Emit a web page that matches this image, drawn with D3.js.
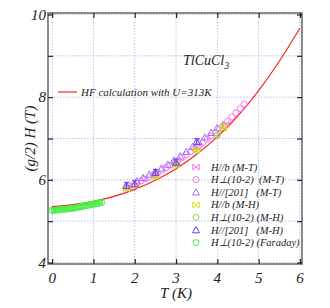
<!DOCTYPE html>
<html>
<head>
<meta charset="utf-8">
<script src="https://cdn.jsdelivr.net/npm/d3@7"></script>
<style>
  body { margin: 0; background: #fff; }
</style>
</head>
<body>
<div id="chart"></div>
<script>
// HF calculation curve (T, (g/2)H)
const curveT = [0, 0.5, 1, 1.5, 2, 2.5, 3, 3.5, 4, 4.5, 5, 5.5, 6];
const curveH = [5.35, 5.40, 5.48, 5.60, 5.77, 5.99, 6.27, 6.62, 7.04, 7.55, 8.16, 8.87, 9.67];

// Faraday, H perp (10-2)
const faradayT = [0, 0.05, 0.1, 0.15, 0.2, 0.25, 0.3, 0.35, 0.4, 0.45, 0.5, 0.55, 0.6, 0.65, 0.7, 0.75, 0.8, 0.85, 0.9, 0.95, 1.0, 1.05, 1.1, 1.15, 1.2];
const faradayH = [5.26, 5.26, 5.27, 5.27, 5.28, 5.28, 5.29, 5.29, 5.30, 5.31, 5.31, 5.32, 5.33, 5.34, 5.35, 5.36, 5.37, 5.38, 5.39, 5.40, 5.41, 5.42, 5.43, 5.44, 5.45];

// M-T, H perp (10-2)
const mtPerpT = [1.85, 1.95, 2.05, 2.15, 2.25, 2.35, 2.45, 2.55, 2.65, 2.75, 2.85, 2.95, 3.05, 3.15, 3.25, 3.35, 3.45, 3.55, 3.65, 3.75, 3.85, 3.95, 4.05, 4.15, 4.25, 4.35, 4.45, 4.55, 4.65];
const mtPerpH = [5.85, 5.88, 5.92, 5.97, 6.02, 6.07, 6.12, 6.17, 6.23, 6.29, 6.35, 6.41, 6.47, 6.54, 6.61, 6.68, 6.75, 6.82, 6.90, 6.98, 7.06, 7.14, 7.23, 7.32, 7.42, 7.52, 7.62, 7.72, 7.83];

// M-T, H // [201]
const mt201T = [2.05, 2.2, 2.35, 2.5, 2.65, 2.8, 2.95, 3.1, 3.25, 3.4, 3.55, 3.7, 3.85, 4.0];
const mt201H = [5.97, 6.05, 6.13, 6.20, 6.28, 6.37, 6.47, 6.57, 6.68, 6.80, 6.92, 7.03, 7.14, 7.26];

// M-T, H // b
const mtBT = [1.85, 2.5, 3.0, 3.5, 4.2];
const mtBH = [5.82, 6.12, 6.42, 6.78, 7.35];

// M-H, H // b
const mhBT = [1.8, 2.0, 2.5, 3.0, 3.5, 4.15];
const mhBH = [5.78, 5.85, 6.07, 6.35, 6.72, 7.25];

// M-H, H perp (10-2)
const mhPerpT = [1.8, 2.5, 3.0, 3.5, 4.0, 4.15];
const mhPerpH = [5.80, 6.10, 6.38, 6.70, 7.08, 7.30];

// M-H, H // [201]
const mh201T = [1.8, 2.0, 2.5, 3.0, 3.5];
const mh201H = [5.86, 5.90, 6.17, 6.42, 6.92];

const xTicks = [0, 1, 2, 3, 4, 5, 6];
const yTicks = [4, 5, 6, 7, 8, 9, 10];
const yLabels = [4, 6, 8, 10];

const legendNames = ["H//b (M-T)", "H\u22a5(10-2)  (M-T)", "H//[201]   (M-T)", "H//b (M-H)", "H\u22a5(10-2) (M-H)", "H//[201]   (M-H)", "H\u22a5(10-2) (Faraday)"];
const legendColors = ["#ff6ee6", "#ff77ee", "#a070ff", "#dde000", "#9ad64a", "#6a3cff", "#44ee44"];
const legendShapes = ["bowtie", "circle", "triangle", "bowtie", "circle", "triangle", "circle"];

const width = 330, height = 308;
const frame = {left: 48, right: 302, top: 13, bottom: 264};
const serif = "Liberation Serif";

const svg = d3.select("#chart").append("svg")
    .attr("width", width)
    .attr("height", height);

// every label goes through here so the serif italic face is set on the element itself
function label(parent, size) {
    return parent.append("text")
        .attr("font-family", serif)
        .attr("font-style", "italic")
        .attr("font-size", size + "px")
        .attr("fill", "#222");
}

const x = d3.scaleLinear().domain([-0.1, 6.05]).range([frame.left, frame.right]);
const y = d3.scaleLinear().domain([4, 10]).range([262.5, 14.5]);

// grid
svg.append("g").selectAll("line")
    .data(xTicks)
    .enter().append("line")
    .attr("x1", d => x(d)).attr("x2", d => x(d))
    .attr("y1", frame.top).attr("y2", frame.bottom)
    .attr("stroke", "#9fb4ee").attr("stroke-width", 0.8)
    .attr("stroke-dasharray", "1.5,1.5");
svg.append("g").selectAll("line")
    .data(yTicks)
    .enter().append("line")
    .attr("x1", frame.left).attr("x2", frame.right)
    .attr("y1", d => y(d)).attr("y2", d => y(d))
    .attr("stroke", "#9fb4ee").attr("stroke-width", 0.8)
    .attr("stroke-dasharray", "1.5,1.5");

// frame
svg.append("rect")
    .attr("x", frame.left).attr("y", frame.top)
    .attr("width", frame.right - frame.left)
    .attr("height", frame.bottom - frame.top)
    .attr("fill", "none")
    .attr("stroke", "#6e6e6e")
    .attr("stroke-width", 1.6);

// ticks (inward)
const tickLen = 5;
svg.append("g")
    .attr("transform", `translate(0,${frame.bottom})`)
    .call(d3.axisTop(x).tickValues(xTicks).tickSize(tickLen).tickFormat(""))
    .call(g => g.select(".domain").remove());
svg.append("g")
    .attr("transform", `translate(0,${frame.top})`)
    .call(d3.axisBottom(x).tickValues(xTicks).tickSize(tickLen).tickFormat(""))
    .call(g => g.select(".domain").remove());
svg.append("g")
    .attr("transform", `translate(${frame.left},0)`)
    .call(d3.axisRight(y).tickValues(yTicks).tickSize(tickLen).tickFormat(""))
    .call(g => g.select(".domain").remove());
svg.append("g")
    .attr("transform", `translate(${frame.right},0)`)
    .call(d3.axisLeft(y).tickValues(yTicks).tickSize(tickLen).tickFormat(""))
    .call(g => g.select(".domain").remove());
svg.selectAll(".tick line").attr("stroke", "#222").attr("stroke-width", 1.2);

// tick labels
const xLab = svg.append("g");
xTicks.forEach(d => {
    label(xLab, 15)
        .attr("x", x(d))
        .attr("y", 283)
        .attr("text-anchor", "middle")
        .text(d);
});
const yLab = svg.append("g");
yLabels.forEach(d => {
    label(yLab, 15)
        .attr("x", 46)
        .attr("y", y(d))
        .attr("dy", "0.35em")
        .attr("text-anchor", "end")
        .text(d);
});

// axis titles
label(svg, 15)
    .attr("x", (x(0) + x(6)) / 2)
    .attr("y", 298)
    .attr("text-anchor", "middle")
    .text("T (K)");
label(svg, 15)
    .attr("transform", `translate(35,${(y(4) + y(10)) / 2}) rotate(-90)`)
    .attr("text-anchor", "middle")
    .text("(g/2) H (T)");

// HF curve
const line = d3.line()
    .x(d => x(d[0]))
    .y(d => y(d[1]))
    .curve(d3.curveMonotoneX);
svg.append("path")
    .datum(curveT.map((t, i) => [t, curveH[i]]))
    .attr("d", line)
    .attr("fill", "none")
    .attr("stroke", "#ff2020")
    .attr("stroke-width", 1.2);

// symbols
function drawSymbol(g, shape, cx, cy, color) {
    if (shape === "circle") {
        g.append("circle").attr("cx", cx).attr("cy", cy).attr("r", 3)
            .attr("fill", "none").attr("stroke", color).attr("stroke-width", 1);
    } else if (shape === "triangle") {
        g.append("path")
            .attr("d", `M${cx},${cy - 3.5}L${cx + 3.5},${cy + 2.8}L${cx - 3.5},${cy + 2.8}Z`)
            .attr("fill", "none").attr("stroke", color).attr("stroke-width", 1);
    } else {
        g.append("path")
            .attr("d", `M${cx - 3.2},${cy - 3}L${cx + 3.2},${cy + 3}L${cx + 3.2},${cy - 3}L${cx - 3.2},${cy + 3}Z`)
            .attr("fill", "none").attr("stroke", color).attr("stroke-width", 1);
    }
}

function drawSeries(ts, hs, shape, color, err) {
    const g = svg.append("g");
    ts.forEach((t, i) => {
        if (err) {
            g.append("line")
                .attr("x1", x(t)).attr("x2", x(t))
                .attr("y1", y(hs[i] - err)).attr("y2", y(hs[i] + err))
                .attr("stroke", color).attr("stroke-width", 1);
            g.append("line")
                .attr("x1", x(t) - 2.5).attr("x2", x(t) + 2.5)
                .attr("y1", y(hs[i] + err)).attr("y2", y(hs[i] + err))
                .attr("stroke", color).attr("stroke-width", 1);
        }
        drawSymbol(g, shape, x(t), y(hs[i]), color);
    });
}

drawSeries(faradayT, faradayH, "circle", legendColors[6], 0.06);
drawSeries(mtPerpT, mtPerpH, "circle", legendColors[1]);
drawSeries(mt201T, mt201H, "triangle", legendColors[2]);
drawSeries(mtBT, mtBH, "bowtie", legendColors[0]);
drawSeries(mhPerpT, mhPerpH, "circle", legendColors[4], 0.06);
drawSeries(mhBT, mhBH, "bowtie", legendColors[3]);
drawSeries(mh201T, mh201H, "triangle", legendColors[5], 0.08);

// labels
label(svg, 14)
    .attr("x", 183)
    .attr("y", 65)
    .text("TlCuCl")
    .append("tspan")
    .attr("dy", 4)
    .attr("font-size", "10px")
    .text("3");

svg.append("line")
    .attr("x1", 58).attr("x2", 77)
    .attr("y1", 92).attr("y2", 92)
    .attr("stroke", "#ff2020").attr("stroke-width", 1.2);
label(svg, 11)
    .attr("x", 81)
    .attr("y", 92)
    .attr("dy", "0.35em")
    .text("HF calculation with U=313K");

// legend
const legend = svg.append("g");
legendNames.forEach((name, i) => {
    const ly = 167 + i * 12.6;
    drawSymbol(legend, legendShapes[i], 196, ly, legendColors[i]);
    label(legend, 10.5)
        .attr("x", 211)
        .attr("y", ly)
        .attr("dy", "0.35em")
        .attr("xml:space", "preserve")
        .style("white-space", "pre")
        .text(name);
});
</script>
</body>
</html>
